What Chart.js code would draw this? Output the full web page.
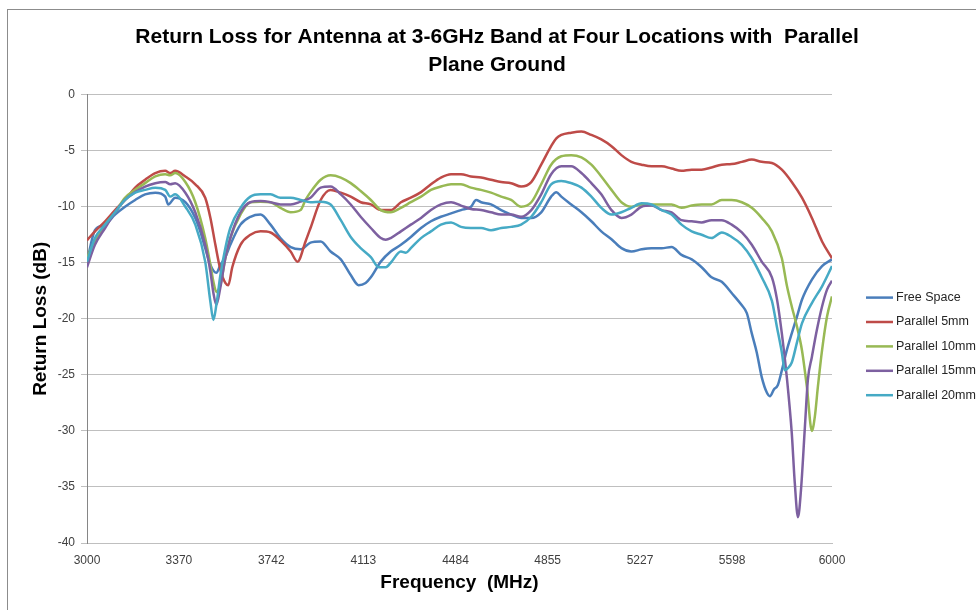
<!DOCTYPE html>
<html>
<head>
<meta charset="utf-8">
<script src="https://cdn.jsdelivr.net/npm/chart.js@4/dist/chart.umd.min.js"></script>
<style>
  html, body { margin: 0; padding: 0; background: #fff; }
  #wrap { width: 976px; height: 610px; }
</style>
</head>
<body>
<div id="wrap"><canvas id="grafica" width="976" height="610"></canvas></div>
<script>
const ctx = document.getElementById('grafica').getContext('2d');

// tick labels on the frequency axis
const xTicks = [3000, 3370, 3742, 4113, 4484, 4855, 5227, 5598, 6000];

const seriesNames = ['Free Space', 'Parallel 5mm', 'Parallel 10mm', 'Parallel 15mm', 'Parallel 20mm'];
const seriesColors = ['#4a7ebb', '#be4b48', '#98b954', '#7d60a0', '#46aac5'];

// Free Space
const freeSpaceMHz = [3000,3032,3073,3113,3153,3194,3234,3275,3315,3327,3355,3396,3436,3456,3476,3497,3521,3537,3557,3577,
  3618,3658,3699,3739,3779,3820,3860,3900,3941,3981,4022,4062,4094,4122,4143,4183,4223,4264,4304,4345,
  4385,4425,4466,4506,4546,4567,4587,4627,4668,4708,4748,4789,4829,4869,4890,4910,4950,4991,5031,5071,
  5112,5152,5192,5233,5273,5314,5354,5394,5435,5475,5515,5556,5596,5637,5657,5677,5697,5717,5738,5750,
  5766,5782,5798,5818,5838,5859,5879,5919,5960,6000];
const freeSpaceDb = [-14.9,-12.1,-11.6,-10.7,-10.0,-9.4,-8.9,-8.75,-9.1,-9.8,-9.2,-9.6,-11.0,-12.2,-13.7,-15.2,-15.9,-15.2,-14.5,-13.4,
  -11.6,-10.9,-10.7,-11.6,-12.8,-13.6,-13.8,-13.2,-13.1,-14.0,-14.7,-16.1,-17.0,-16.8,-16.3,-14.9,-14.0,-13.4,-12.7,-11.9,
  -11.3,-10.9,-10.6,-10.3,-10.0,-9.4,-9.6,-9.8,-10.3,-10.7,-11.0,-11.0,-10.5,-9.1,-8.7,-9.1,-9.8,-10.5,-11.3,-12.2,
  -12.9,-13.7,-14.0,-13.8,-13.7,-13.7,-13.6,-14.3,-14.7,-15.4,-16.3,-16.7,-17.7,-18.8,-19.5,-21.3,-23.0,-25.2,-26.6,-26.9,
  -26.3,-25.9,-24.6,-22.8,-21.3,-19.8,-18.3,-16.5,-15.3,-14.7];

// Parallel 5mm
const p5MHz = [3000,3032,3073,3113,3153,3194,3234,3275,3315,3335,3355,3396,3436,3476,3497,3517,3537,3557,3569,3585,
  3618,3658,3699,3739,3779,3820,3848,3880,3900,3941,3981,4022,4062,4102,4143,4183,4223,4264,4304,4345,
  4385,4425,4466,4506,4546,4587,4627,4668,4708,4748,4789,4829,4869,4890,4910,4950,4991,5031,5071,5112,
  5152,5192,5233,5273,5314,5354,5394,5435,5475,5515,5556,5596,5637,5677,5717,5758,5798,5838,5879,5919,
  5960,6000];
const p5Db = [-13.0,-12.2,-11.3,-10.3,-9.4,-8.3,-7.6,-7.0,-6.8,-7.0,-6.8,-7.3,-8.0,-9.2,-11.0,-13.4,-15.6,-16.8,-17.0,-15.4,
  -13.4,-12.5,-12.2,-12.3,-13.0,-14.0,-14.9,-13.1,-11.9,-9.4,-8.5,-8.75,-9.1,-9.6,-9.8,-10.3,-10.3,-9.6,-9.2,-8.7,
  -8.0,-7.4,-7.1,-7.1,-7.3,-7.4,-7.6,-7.8,-7.9,-8.2,-7.8,-6.25,-4.6,-3.9,-3.6,-3.4,-3.3,-3.6,-4.0,-4.6,
  -5.4,-6.0,-6.25,-6.4,-6.4,-6.6,-6.8,-6.7,-6.7,-6.5,-6.25,-6.2,-6.0,-5.8,-6.0,-6.1,-6.7,-7.8,-9.2,-11.0,
  -13.1,-14.6];

// Parallel 10mm
const p10MHz = [3000,3032,3073,3113,3153,3194,3234,3275,3315,3335,3355,3396,3436,3476,3497,3509,3521,3537,3557,3577,
  3618,3658,3699,3739,3779,3820,3860,3880,3900,3941,3981,4022,4062,4102,4143,4183,4223,4264,4304,4345,
  4385,4425,4466,4506,4546,4587,4627,4668,4708,4748,4789,4829,4869,4910,4950,4991,5031,5071,5112,5152,
  5192,5233,5273,5314,5354,5394,5435,5475,5515,5556,5596,5637,5677,5717,5758,5798,5818,5838,5859,5879,
  5899,5919,5931,5943,5960,5980,6000];
const p10Db = [-14.6,-13.0,-11.6,-10.5,-9.2,-8.5,-7.9,-7.3,-7.1,-7.2,-7.0,-7.8,-9.6,-12.8,-15.2,-16.7,-17.6,-17.0,-14.6,-12.8,
  -10.7,-9.6,-9.55,-9.6,-10.1,-10.5,-10.3,-9.4,-8.7,-7.6,-7.2,-7.4,-7.9,-8.6,-9.4,-10.3,-10.5,-10.1,-9.6,-9.1,
  -8.5,-8.2,-8.0,-8.0,-8.3,-8.5,-8.75,-9.1,-9.4,-10.0,-9.6,-8.0,-6.25,-5.5,-5.4,-5.6,-6.25,-7.3,-8.5,-9.6,
  -10.0,-9.8,-9.8,-9.8,-9.8,-10.1,-9.9,-9.8,-9.8,-9.4,-9.4,-9.6,-10.1,-11.0,-12.2,-14.6,-17.0,-18.9,-20.7,-22.8,
  -26.1,-30.0,-28.7,-26.1,-22.8,-19.8,-18.0];

// Parallel 15mm
const p15MHz = [3000,3032,3073,3113,3153,3194,3234,3275,3315,3335,3355,3396,3436,3476,3497,3509,3521,3537,3557,3577,
  3618,3658,3699,3739,3779,3820,3860,3900,3941,3981,4022,4062,4102,4143,4183,4203,4223,4264,4304,4345,
  4385,4425,4466,4506,4546,4587,4627,4668,4708,4748,4789,4829,4869,4910,4950,4991,5031,5071,5112,5152,
  5192,5233,5273,5314,5354,5394,5435,5475,5515,5556,5596,5637,5677,5717,5758,5778,5798,5818,5838,5850,
  5863,5875,5891,5903,5919,5939,5960,5980,6000];
const p15Db = [-15.4,-13.4,-11.9,-10.5,-9.4,-8.7,-8.2,-7.9,-7.8,-8.0,-7.9,-8.75,-10.5,-13.4,-15.8,-17.7,-18.75,-17.2,-14.6,-12.8,
  -10.5,-9.6,-9.5,-9.6,-9.8,-9.8,-9.55,-9.2,-8.3,-8.2,-8.9,-9.8,-10.9,-11.9,-12.8,-12.95,-12.8,-12.2,-11.6,-11.0,
  -10.3,-9.8,-9.6,-9.9,-10.2,-10.3,-10.5,-10.7,-10.7,-10.9,-10.3,-8.9,-7.1,-6.4,-6.4,-7.0,-7.9,-8.9,-10.3,-11.0,
  -10.7,-10.0,-9.9,-10.3,-10.5,-11.2,-11.3,-11.4,-11.2,-11.2,-11.6,-12.3,-13.4,-14.9,-16.3,-18.2,-21.3,-25.2,-30.2,-34.6,
  -37.7,-35.3,-29.6,-25.4,-23.4,-21.0,-18.9,-17.4,-16.6];

// Parallel 20mm
const p20MHz = [3000,3032,3073,3113,3153,3194,3234,3275,3315,3335,3355,3396,3436,3476,3497,3509,3521,3537,3557,3577,
  3618,3658,3699,3739,3779,3820,3860,3900,3941,3981,4022,4062,4102,4143,4175,4203,4223,4264,4284,4304,
  4345,4385,4425,4466,4506,4546,4587,4627,4668,4708,4748,4789,4829,4869,4910,4950,4991,5031,5071,5112,
  5152,5192,5233,5273,5314,5354,5394,5435,5475,5515,5556,5596,5637,5677,5717,5758,5778,5798,5810,5822,
  5838,5859,5879,5919,5960,6000];
const p20Db = [-14.9,-12.8,-11.6,-10.5,-9.4,-8.75,-8.5,-8.3,-8.5,-9.1,-8.9,-10.0,-11.6,-14.9,-18.5,-20.1,-18.75,-16.1,-13.7,-11.9,
  -10.1,-9.1,-8.9,-8.9,-9.2,-9.2,-9.4,-9.6,-9.55,-9.8,-11.2,-12.7,-13.7,-14.5,-15.4,-15.4,-15.0,-14.0,-14.1,-13.7,
  -12.8,-12.2,-11.6,-11.4,-11.8,-11.9,-11.9,-12.1,-11.9,-11.8,-11.6,-10.9,-9.6,-8.0,-7.7,-7.9,-8.3,-9.1,-10.1,-10.7,
  -10.5,-10.1,-9.7,-9.8,-10.3,-10.7,-11.6,-12.2,-12.5,-12.8,-12.3,-12.7,-13.4,-14.6,-16.3,-18.4,-20.7,-23.0,-24.6,-24.4,
  -23.9,-22.1,-20.4,-18.6,-17.1,-15.3];

const allMHz = [freeSpaceMHz, p5MHz, p10MHz, p15MHz, p20MHz];
const allDb = [freeSpaceDb, p5Db, p10Db, p15Db, p20Db];

function puntos(mhz, db) {
  return mhz.map((f, i) => ({ x: f, y: db[i] }));
}

// grey frame around the whole chart, like the Excel chart border
const marco = {
  id: 'marco',
  beforeDraw(chart) {
    const c = chart.ctx;
    c.save();
    c.fillStyle = '#ffffff';
    c.fillRect(0, 0, chart.width, chart.height);
    c.strokeStyle = '#8c8c8c';
    c.lineWidth = 1;
    c.strokeRect(7.5, 9.5, chart.width + 20, chart.height + 20);
    c.restore();
  }
};

// legend on the right, line samples + labels
const leyenda = {
  id: 'leyenda',
  afterDraw(chart) {
    const c = chart.ctx;
    const area = chart.chartArea;
    const x0 = area.right + 34;
    const y0 = area.top + 203;
    c.save();
    c.font = "12.5px 'Liberation Sans', Arial, sans-serif";
    c.textBaseline = 'middle';
    c.textAlign = 'left';
    chart.data.datasets.forEach((ds, i) => {
      const y = y0 + i * 24.4;
      c.strokeStyle = ds.borderColor;
      c.lineWidth = 2.5;
      c.beginPath();
      c.moveTo(x0, y);
      c.lineTo(x0 + 27, y);
      c.stroke();
      c.fillStyle = '#262626';
      c.fillText(ds.label, x0 + 30, y);
    });
    c.restore();
  }
};

Chart.defaults.font.family = "'Liberation Sans', Arial, sans-serif";
Chart.defaults.color = '#404040';

const data = {
  datasets: seriesNames.map((name, i) => ({
    label: name,
    data: puntos(allMHz[i], allDb[i]),
    borderColor: seriesColors[i],
    backgroundColor: seriesColors[i],
    order: seriesNames.length - i
  }))
};

const config = {
  type: 'line',
  data: data,
  options: {
    responsive: false,
    animation: false,
    layout: { padding: { left: 18, right: 0, top: 0, bottom: 0 } },
    elements: {
      point: { radius: 0 },
      line: { borderWidth: 2.5, cubicInterpolationMode: 'monotone' }
    },
    plugins: {
      legend: { display: false },
      tooltip: { enabled: false },
      title: {
        display: true,
        text: ['Return Loss for Antenna at 3-6GHz Band at Four Locations with  Parallel', 'Plane Ground'],
        color: '#000',
        font: { size: 21, weight: 'bold', lineHeight: 1.3 },
        padding: { top: 24, bottom: 16 }
      }
    },
    scales: {
      x: {
        type: 'linear',
        min: 3000,
        max: 6000,
        afterBuildTicks: s => { s.ticks = xTicks.map(v => ({ value: v })); },
        afterFit: s => { s.height = 67; },
        grid: { display: false, drawTicks: false },
        border: { display: true, color: '#bfbfbf' },
        ticks: { autoSkip: false, maxRotation: 0, padding: 10, font: { size: 12 }, callback: v => String(v) },
        title: {
          display: true,
          text: 'Frequency  (MHz)',
          color: '#000',
          font: { size: 19, weight: 'bold' },
          padding: { top: 0, bottom: 16 }
        }
      },
      y: {
        min: -40,
        max: 0,
        afterFit: s => { s.width = 69; },
        ticks: { stepSize: 5, padding: 6, font: { size: 12 } },
        grid: { color: '#bfbfbf', tickLength: 6 },
        border: { color: '#868686' },
        title: {
          display: true,
          text: 'Return Loss (dB)',
          color: '#000',
          font: { size: 19, weight: 'bold' },
          padding: { top: 11, bottom: 0 }
        }
      },
      yLegend: {
        type: 'linear',
        axis: 'y',
        position: 'right',
        grid: { display: false },
        ticks: { display: false },
        border: { display: false },
        afterFit: s => { s.width = 144; }
      }
    }
  },
  plugins: [marco, leyenda]
};

const myChart = new Chart(ctx, config);
</script>
</body>
</html>
